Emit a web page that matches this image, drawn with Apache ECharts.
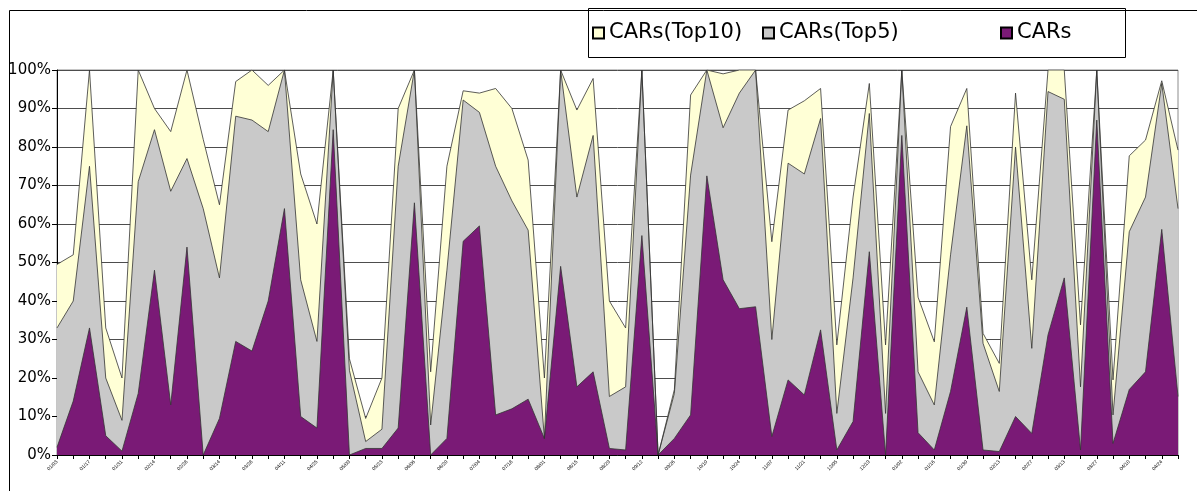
<!DOCTYPE html>
<html>
<head>
<meta charset="utf-8">
<title>CARs</title>
<script src="https://cdn.jsdelivr.net/npm/echarts@6/dist/echarts.min.js"></script>
<style>
  html, body { margin: 0; padding: 0; background: #fff; }
  #chart { width: 1197px; height: 491px; }
</style>
</head>
<body>
<div id="chart"></div>
<script>
// week labels (tiny in the original, barely readable)
var weeks = ['01/03','01/10','01/17','01/24','01/31','02/07','02/14','02/21','02/28','03/07',
  '03/14','03/21','03/28','04/04','04/11','04/18','04/25','05/02','05/09','05/16',
  '05/23','05/30','06/06','06/13','06/20','06/27','07/04','07/11','07/18','07/25',
  '08/01','08/08','08/15','08/22','08/29','09/05','09/12','09/19','09/26','10/03',
  '10/10','10/17','10/24','10/31','11/07','11/14','11/21','11/28','12/05','12/12',
  '12/19','12/26','01/02','01/09','01/16','01/23','01/30','02/06','02/13','02/20',
  '02/27','03/06','03/13','03/20','03/27','04/03','04/10','04/17','04/24','05/01'];

// share in percent
var carsTop10 = [49.5, 52, 100, 33, 20, 100, 90, 84, 100, 82,
  65, 97, 100, 96, 100, 73, 60, 100, 25, 9.5,
  20, 90, 100, 21.6, 75, 94.6, 94, 95.2, 90, 76.6,
  20, 100, 89.6, 97.8, 40, 33, 100, 0, 17, 93.5,
  100, 99, 100, 100, 55.4, 89.6, 92, 95.2, 28.6, 67,
  96.5, 28.6, 100, 41, 29.4, 85.3, 95.2, 31.6, 23.8, 94,
  45.5, 100, 100, 33.8, 100, 19.5, 77.7, 81.8, 97.2, 79.2];

var carsTop5 = [33, 40, 75, 20, 9, 71, 84.5, 68.5, 77, 64,
  46, 88, 87, 84, 100, 45.5, 29.5, 100, 22, 3.5,
  6.7, 75, 100, 7.8, 48, 92.2, 89, 75, 66, 58.4,
  4.3, 100, 67, 83, 15.2, 17.7, 100, 0, 16, 72.7,
  100, 85, 94, 100, 30, 75.8, 73, 87.4, 10.8, 46,
  88.7, 10.8, 100, 21.6, 13, 52, 85.5, 29, 16.5, 80,
  27.7, 94.4, 92.4, 17.7, 100, 10.4, 58, 67, 96.5, 64];

var cars = [2, 14, 33, 5, 1, 16, 48, 13, 54, 0,
  9.5, 29.5, 27, 40, 64, 10, 7, 84.5, 0, 1.7,
  1.7, 7, 65.5, 0, 4.3, 55.5, 59.5, 10.4, 12, 14.5,
  4.3, 49, 17.7, 21.6, 1.7, 1.3, 57, 0, 4.3, 10.4,
  72.5, 45.5, 38, 38.5, 4.8, 19.5, 15.6, 32.5, 1.3, 8.7,
  52.8, 0, 83, 5.8, 1.3, 16.5, 38.4, 1.3, 0.9, 10,
  5.6, 31.2, 46, 1.3, 87, 3, 17, 21.6, 58.6, 15.2];

var chart = echarts.init(document.getElementById('chart'));

function areaSeries(name, data, color) {
  return {
    name: name,
    type: 'line',
    data: data,
    symbol: 'none',
    smooth: false,
    lineStyle: { color: '#333', width: 0.8 },
    areaStyle: { color: color, opacity: 1 },
    itemStyle: { color: color, borderColor: '#000', borderWidth: 1 },
    emphasis: { disabled: true },
    animation: false
  };
}

function legendAt(name, left) {
  return {
    data: [name],
    left: left,
    top: 22,
    padding: 0,
    icon: 'rect',
    itemWidth: 11,
    itemHeight: 11,
    itemGap: 0,
    textStyle: { fontFamily: 'DejaVu Sans', fontSize: 21, color: '#000', lineHeight: 22 }
  };
}

var option = {
  backgroundColor: '#fff',
  animation: false,
  grid: {
    left: 57, right: 19, top: 70, bottom: 36,
    show: true, borderColor: '#8c8c8c', borderWidth: 1
  },
  legend: [
    legendAt('CARs(Top10)', 592),
    legendAt('CARs(Top5)', 762),
    legendAt('CARs', 1000)
  ],
  graphic: [
    // chart frame
    { type: 'rect', left: 7, top: 8, shape: { width: 1200, height: 500 },
      style: { fill: 'none', stroke: '#000', lineWidth: 1 }, silent: true },
    // legend frame
    { type: 'rect', left: 588, top: 8, shape: { width: 537, height: 49 },
      style: { fill: '#fff', stroke: '#000', lineWidth: 1 }, silent: true, z: -1 }
  ],
  xAxis: {
    type: 'category',
    data: weeks,
    boundaryGap: false,
    axisLine: { lineStyle: { color: '#000', width: 1 } },
    axisTick: { show: true, interval: 0, length: 4, lineStyle: { color: '#000' } },
    axisLabel: { interval: 1, rotate: 45, fontSize: 5, color: '#000', margin: 6, fontFamily: 'Liberation Sans' },
    splitLine: { show: false }
  },
  yAxis: {
    type: 'value',
    min: 0,
    max: 100,
    interval: 10,
    axisLine: { show: true, lineStyle: { color: '#000', width: 1 } },
    axisTick: { show: true, length: 5, lineStyle: { color: '#000' } },
    axisLabel: { formatter: '{value}%', fontFamily: 'DejaVu Sans', fontSize: 15, color: '#000', margin: 6 },
    splitLine: { show: true, lineStyle: { color: '#4d4d4d', width: 1 } }
  },
  series: [
    areaSeries('CARs(Top10)', carsTop10, '#ffffd6'),
    areaSeries('CARs(Top5)', carsTop5, '#c9c9c9'),
    areaSeries('CARs', cars, '#7a1a76')
  ]
};

chart.setOption(option);
</script>
</body>
</html>
